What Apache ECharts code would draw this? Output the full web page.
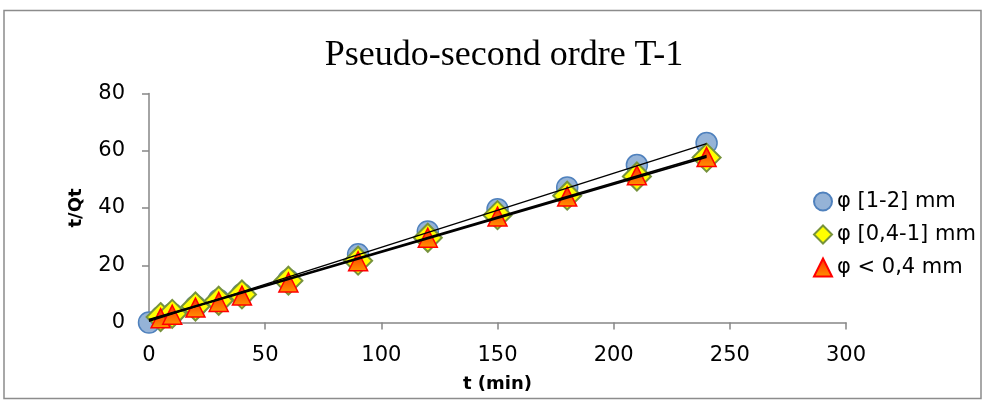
<!DOCTYPE html>
<html>
<head>
<meta charset="utf-8">
<title>Pseudo-second ordre T-1</title>
<script src="https://cdn.jsdelivr.net/npm/echarts@6/dist/echarts.min.js"></script>
<style>
    html, body { margin: 0; padding: 0; background: #ffffff; }
    #chart { width: 985px; height: 403px; }
</style>
</head>
<body>
<div id="chart"></div>
<script>
/* données */
const tBlue = [0, 5, 10, 20, 30, 40, 60, 90, 120, 150, 180, 210, 240]
const qBlue = [0, 1.8, 3.0, 5.6, 7.9, 9.9, 14.8, 23.8, 31.8, 39.6, 47.2, 55.0, 62.7]

const tGreen = [5, 10, 20, 30, 40, 60, 90, 120, 150, 180, 210, 240]
const qGreen = [1.9, 3.0, 5.6, 7.6, 9.8, 14.6, 21.6, 29.6, 37.5, 44.3, 51.0, 57.6]

const tRed = [5, 10, 20, 30, 40, 60, 90, 120, 150, 180, 210, 240]
const qRed = [1.5, 2.7, 5.2, 7.2, 9.4, 14.0, 21.4, 29.6, 37.0, 44.0, 51.4, 57.8]

/* courbes de tendance (extrémités lues) */
const trendT = [0, 240]
const trendBlue = [0.4, 62.5]
const trendGreen = [1.0, 58.3]
const trendRed = [0.8, 57.8]

const names = ['φ [1-2] mm', 'φ [0,4-1] mm', 'φ < 0,4 mm']
const xTicks = [0, 50, 100, 150, 200, 250, 300]
const yTicks = [0, 20, 40, 60, 80]

function pairs (xs, ys) {
    return xs.map((x, i) => [x, ys[i]])
}

const chart = echarts.init(document.getElementById('chart'), null, { renderer: 'canvas' })

const sans = 'DejaVu Sans'
const axisGray = '#868686'

const triFill = new echarts.graphic.LinearGradient(0, 0, 0, 1, [
    { offset: 0, color: '#ff2a00' },
    { offset: 1, color: '#ff9400' }
])

function trend (ys, width) {
    return {
        type: 'line',
        data: pairs(trendT, ys),
        symbol: 'none',
        silent: true,
        z: 5,
        lineStyle: { color: '#000000', width: width }
    }
}

chart.setOption({
    animation: false,
    backgroundColor: '#ffffff',
    title: {
        text: 'Pseudo-second ordre T-1',
        left: 499,
        top: 33,
        textAlign: 'center',
        textStyle: {
            fontFamily: 'Liberation Serif',
            fontSize: 36,
            fontWeight: 'normal',
            color: '#000000'
        }
    },
    legend: {
        orient: 'vertical',
        left: 808,
        top: 186,
        itemWidth: 18,
        itemHeight: 18,
        itemGap: 12,
        textStyle: { fontFamily: sans, fontSize: 21, color: '#000000' },
        data: [
            { name: names[0], icon: 'circle' },
            { name: names[1], icon: 'diamond' },
            { name: names[2], icon: 'triangle' }
        ]
    },
    grid: {
        left: 149,
        right: 139,
        top: 93.5,
        bottom: 80.5,
        containLabel: false
    },
    xAxis: {
        type: 'value',
        min: xTicks[0],
        max: xTicks[xTicks.length - 1],
        interval: 50,
        name: 't (min)',
        nameLocation: 'middle',
        nameGap: 53,
        nameTextStyle: { fontFamily: sans, fontSize: 18, fontWeight: 'bold', color: '#000000' },
        axisLine: { lineStyle: { color: axisGray, width: 1.5 } },
        axisTick: { show: true, length: 7, lineStyle: { color: axisGray, width: 1.5 } },
        axisLabel: { margin: 23, fontFamily: sans, fontSize: 21, color: '#000000' },
        splitLine: { show: false }
    },
    yAxis: {
        type: 'value',
        min: yTicks[0],
        max: yTicks[yTicks.length - 1],
        interval: 20,
        name: 't/Qt',
        nameLocation: 'middle',
        nameRotate: 90,
        nameGap: 64,
        nameTextStyle: { fontFamily: sans, fontSize: 18, fontWeight: 'bold', color: '#000000' },
        axisLine: { show: true, lineStyle: { color: axisGray, width: 1.5 } },
        axisTick: { show: true, length: 7, lineStyle: { color: axisGray, width: 1.5 } },
        axisLabel: { margin: 24, fontFamily: sans, fontSize: 21, color: '#000000' },
        splitLine: { show: false }
    },
    graphic: [
        {
            type: 'rect',
            shape: { x: 4, y: 10.5, width: 977, height: 388 },
            style: { fill: 'none', stroke: '#8c8c8c', lineWidth: 1.5 },
            silent: true
        }
    ],
    series: [
        {
            name: names[0],
            type: 'scatter',
            data: pairs(tBlue, qBlue),
            symbol: 'circle',
            symbolSize: 21,
            z: 2,
            itemStyle: { color: '#95b3d7', borderColor: '#4f81bd', borderWidth: 1.5, opacity: 1 }
        },
        {
            name: names[1],
            type: 'scatter',
            data: pairs(tGreen, qGreen),
            symbol: 'diamond',
            symbolSize: 28,
            z: 3,
            itemStyle: { color: '#ffff00', borderColor: '#77933c', borderWidth: 2, opacity: 1 }
        },
        {
            name: names[2],
            type: 'scatter',
            data: pairs(tRed, qRed),
            symbol: 'triangle',
            symbolSize: 19,
            z: 4,
            itemStyle: { color: triFill, borderColor: '#ff0000', borderWidth: 1.5, opacity: 1 }
        },
        trend(trendBlue, 1.5),
        trend(trendGreen, 1.8),
        trend(trendRed, 1.8)
    ]
})
</script>
</body>
</html>
